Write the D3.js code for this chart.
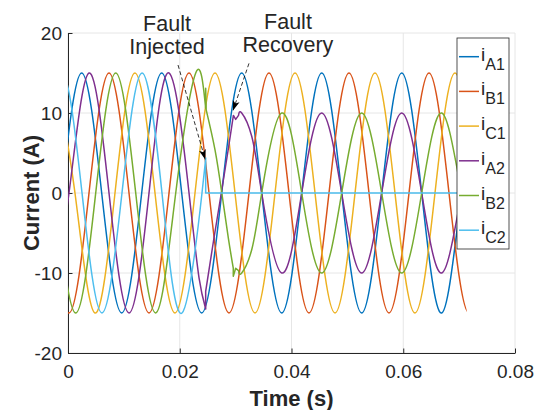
<!DOCTYPE html>
<html>
<head>
<meta charset="utf-8">
<script src="https://cdn.jsdelivr.net/npm/d3@7"></script>
<style>
  body { margin: 0; background: #fff; }
  text { font-family: "Liberation Sans", Arial, sans-serif; fill: #262626; }
</style>
</head>
<body>
<svg id="chart" width="536" height="410"></svg>
<script>
const xTicks = [0, 0.02, 0.04, 0.06, 0.08];
const yTicks = [-20, -10, 0, 10, 20];
const tEnd = 0.07135; // the simulation stops here

const names = [["A", "1"], ["B", "1"], ["C", "1"], ["A", "2"], ["B", "2"], ["C", "2"]];
const colors = ["#0072bd", "#d95319", "#edb120", "#7e2f8e", "#77ac30", "#4dbeee"];

// peaks, zero crossings and troughs: [time (s), current (A)]
// phases of the second set jump at the fault and at the recovery, so they come in pieces
const iA1 = [[
  [-0.00113, 0], [0.00245, 15], [0.00603, 0], [0.00961, -15], [0.01319, 0], [0.01677, 15],
  [0.02035, 0], [0.02393, -15], [0.02751, 0], [0.03109, 15], [0.03467, 0], [0.03825, -15],
  [0.04183, 0], [0.04541, 15], [0.04898, 0], [0.05256, -15], [0.05614, 0], [0.05972, 15],
  [0.06330, 0], [0.06688, -15], [0.07046, 0], [0.07404, 15]
]];
const iB1 = [[
  [-0.00340, 0], [0.00018, -15], [0.00376, 0], [0.00734, 15], [0.01092, 0], [0.01450, -15],
  [0.01808, 0], [0.02166, 15], [0.02524, 0], [0.02881, -15], [0.03239, 0], [0.03597, 15],
  [0.03955, 0], [0.04313, -15], [0.04671, 0], [0.05029, 15], [0.05387, 0], [0.05745, -15],
  [0.06103, 0], [0.06461, 15], [0.06819, 0], [0.07177, -15], [0.07535, 0]
]];
const iC1 = [[
  [-0.00233, 15], [0.00125, 0], [0.00483, -15], [0.00841, 0], [0.01199, 15], [0.01557, 0],
  [0.01915, -15], [0.02273, 0], [0.02631, 15], [0.02989, 0], [0.03347, -15], [0.03705, 0],
  [0.04063, 15], [0.04421, 0], [0.04779, -15], [0.05137, 0], [0.05494, 15], [0.05852, 0],
  [0.06210, -15], [0.06568, 0], [0.06926, 15], [0.07284, 0]
]];
const iA2 = [
  [[-0.00340, -15], [0.00018, 0], [0.00376, 15], [0.00734, 0], [0.01092, -15], [0.01450, 0],
   [0.01808, 15], [0.02166, 0], [0.02345, -10.6], [0.02464, -14.5]],
  [[0.02464, -12.3], [0.02604, -6.0], [0.02744, 0], [0.02869, 5.5], [0.02960, 9.7]],
  [[0.03001, 9.2]],
  [[0.03052, 9.7], [0.03109, 10], [0.03288, 7.1], [0.03467, 0], [0.03825, -10],
   [0.04183, 0], [0.04541, 10], [0.04898, 0], [0.05256, -10], [0.05614, 0], [0.05972, 10],
   [0.06330, 0], [0.06688, -10], [0.07046, 0], [0.07404, 10]]
];
const iB2 = [
  [[-0.00220, 0], [0.00138, -15], [0.00496, 0], [0.00854, 15], [0.01212, 0], [0.01570, -15],
   [0.01928, 0], [0.02286, 15], [0.02464, 10.6]],
  [[0.02464, 13.1]],
  [[0.02473, 10.4], [0.02631, 5.4], [0.02753, 0], [0.02869, -5.6], [0.02958, -9.4]],
  [[0.02958, -10.4]],
  [[0.03001, -9.4]],
  [[0.03052, -9.7], [0.03109, -10], [0.03288, -7.1], [0.03467, 0],
   [0.03825, 10], [0.04183, 0], [0.04541, -10], [0.04898, 0], [0.05256, 10], [0.05614, 0],
   [0.05972, -10], [0.06330, 0], [0.06688, 10], [0.07046, 0], [0.07404, -10]]
];
const iC2 = [
  [[-0.00465, 0], [-0.00107, 15], [0.00251, 0], [0.00608, -15], [0.00966, 0], [0.01324, 15],
   [0.01682, 0], [0.02040, -15], [0.02398, 0], [0.02464, 4.3]],
  [[0.02464, 0], [0.07135, 0]]
];
const currents = [iA1, iB1, iC1, iA2, iB2, iC2];

const svg = d3.select("#chart");
const margin = { top: 33, right: 21, bottom: 57, left: 68 };
const width = 536 - margin.left - margin.right;
const height = 410 - margin.top - margin.bottom;

const x = d3.scaleLinear().domain([0, 0.08]).range([0, width]);
const y = d3.scaleLinear().domain([-20, 20]).range([height, 0]);

const g = svg.append("g").attr("transform", `translate(${margin.left},${margin.top})`);

// grid
g.append("g").selectAll("line").data(xTicks).join("line")
  .attr("x1", d => x(d)).attr("x2", d => x(d))
  .attr("y1", 0).attr("y2", height)
  .attr("stroke", "#e6e6e6");
g.append("g").selectAll("line").data(yTicks).join("line")
  .attr("x1", 0).attr("x2", width)
  .attr("y1", d => y(d)).attr("y2", d => y(d))
  .attr("stroke", "#e6e6e6");

// axes, ticks pointing inwards like matlab
const xAxis = g.append("g").attr("transform", `translate(0,${height})`)
  .call(d3.axisBottom(x).tickValues(xTicks).tickFormat(d3.format("~g"))
    .tickSizeInner(-4.5).tickSizeOuter(0).tickPadding(12));
const yAxis = g.append("g")
  .call(d3.axisLeft(y).tickValues(yTicks).tickFormat(d => String(d))
    .tickSizeInner(-4.5).tickSizeOuter(0).tickPadding(6));
[xAxis, yAxis].forEach(a => {
  a.select(".domain").attr("stroke", "#262626");
  a.selectAll(".tick line").attr("stroke", "#262626");
  a.selectAll(".tick text").style("font-size", "19px").attr("fill", "#262626");
});

g.append("text")
  .attr("x", width / 2).attr("y", height + 53)
  .attr("text-anchor", "middle")
  .style("font-size", "22px").style("font-weight", "bold")
  .text("Time (s)");
g.append("text")
  .attr("transform", `translate(-29,${height / 2}) rotate(-90)`)
  .attr("text-anchor", "middle")
  .style("font-size", "22px").style("font-weight", "bold")
  .text("Current (A)");

// current traces, clipped to the simulated time span
svg.append("clipPath").attr("id", "sim")
  .append("rect").attr("x", 0).attr("y", -5).attr("width", x(tEnd)).attr("height", height + 10);

const line = d3.line().x(d => x(d[0])).y(d => y(d[1])).curve(d3.curveNatural);
// each piece is a smooth curve, pieces are joined by straight jumps
function piecesPath(pieces) {
  return pieces.map((p, i) => {
    const d = p.length > 1 ? line(p) : `M${x(p[0][0])},${y(p[0][1])}`;
    return i ? "L" + d.slice(1) : d;
  }).join("");
}

g.append("g").attr("clip-path", "url(#sim)")
  .selectAll("path").data(currents).join("path")
  .attr("d", d => piecesPath(d))
  .attr("fill", "none")
  .attr("stroke", (d, i) => colors[i])
  .attr("stroke-width", 1.5)
  .attr("stroke-linejoin", "round");

// annotations
svg.append("defs").append("marker")
  .attr("id", "head").attr("viewBox", "0 -4 10 8")
  .attr("refX", 10).attr("refY", 0)
  .attr("markerWidth", 10).attr("markerHeight", 8)
  .attr("markerUnits", "userSpaceOnUse").attr("orient", "auto")
  .append("path").attr("d", "M0,-3.5L10,0L0,3.5L2.5,0Z").attr("fill", "#000");

const notes = [
  { text: ["Fault", "Injected"], at: [0.01772, 20.3], from: [0.01969, 16], to: [0.02455, 4.2] },
  { text: ["Fault", "Recovery"], at: [0.03937, 20.5], from: [0.03239, 16.2], to: [0.02953, 10.3] }
];
notes.forEach(n => {
  g.append("line")
    .attr("x1", x(n.from[0])).attr("y1", y(n.from[1]))
    .attr("x2", x(n.to[0])).attr("y2", y(n.to[1]))
    .attr("stroke", "#000").attr("stroke-width", 0.8)
    .attr("stroke-dasharray", "4,2.5")
    .attr("marker-end", "url(#head)");
  g.append("text")
    .attr("x", x(n.at[0])).attr("y", y(n.at[1]))
    .attr("text-anchor", "middle")
    .style("font-size", "21.5px").attr("fill", "#000")
    .selectAll("tspan").data(n.text).join("tspan")
    .attr("x", x(n.at[0])).attr("dy", (d, i) => i ? 23 : 0)
    .text(d => d);
});

// legend
const legend = g.append("g").attr("transform", `translate(${width - 58},5)`);
legend.append("rect")
  .attr("width", 52).attr("height", 211)
  .attr("fill", "#fff").attr("stroke", "#262626").attr("stroke-width", 0.8);
const item = legend.selectAll("g.item").data(names).join("g")
  .attr("class", "item")
  .attr("transform", (d, i) => `translate(0,${18.7 + i * 34.7})`);
item.append("line")
  .attr("x1", 2).attr("x2", 22)
  .attr("stroke", (d, i) => colors[i]).attr("stroke-width", 1.5);
const label = item.append("text").attr("x", 24).attr("y", 4).style("font-size", "19px");
label.append("tspan").text("i");
label.append("tspan").attr("dy", 9).style("font-size", "16px").text(d => d[0] + d[1]);
</script>
</body>
</html>
